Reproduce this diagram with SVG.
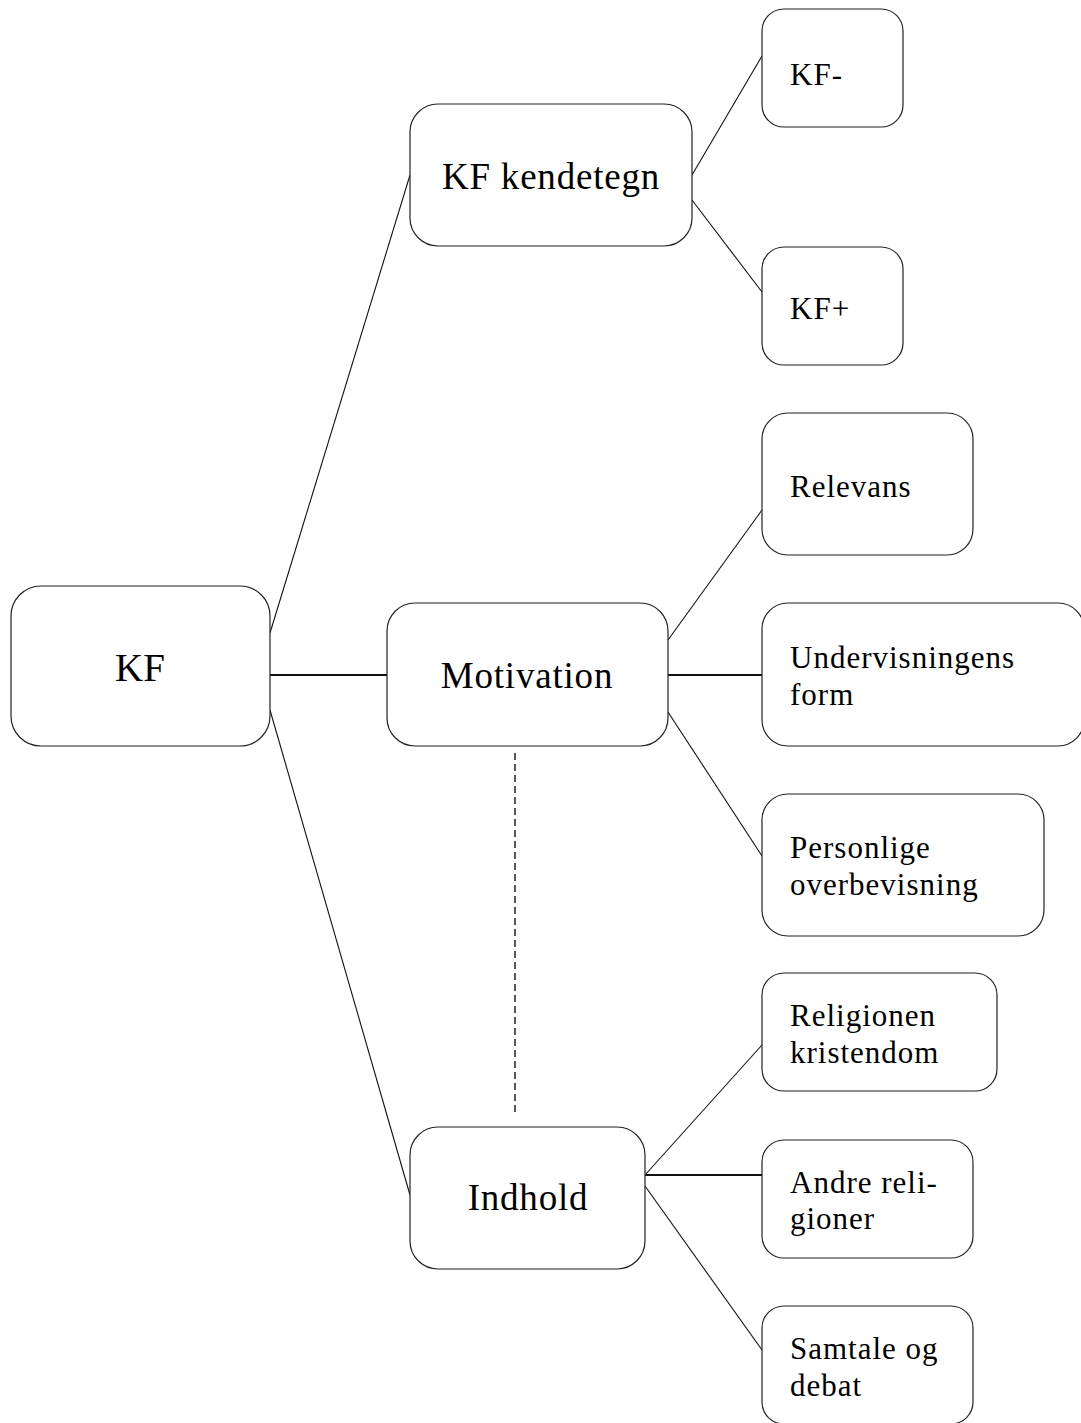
<svg xmlns="http://www.w3.org/2000/svg" width="1081" height="1423" viewBox="0 0 1081 1423">
<style>
.box{fill:#fff;stroke:#222;stroke-width:1.2}
.big{font-family:"Liberation Serif",serif;font-size:37px;letter-spacing:0.8px;fill:#000}
.root{font-family:"Liberation Serif",serif;font-size:39px;fill:#000}
.sm{font-family:"Liberation Serif",serif;font-size:31px;letter-spacing:1px;fill:#000}
.ln{stroke:#111;stroke-width:1.1;fill:none}
.th{stroke:#111;stroke-width:2;fill:none}
.da{stroke:#111;stroke-width:1.4;stroke-dasharray:7,4;fill:none}
</style>
<rect width="1081" height="1423" fill="#fff"/>
<g id="connectors">
<line class="ln" x1="270" y1="633" x2="410" y2="175"/>
<line class="th" x1="270" y1="675" x2="387" y2="675"/>
<line class="ln" x1="270" y1="710" x2="410" y2="1195"/>
<line class="ln" x1="692" y1="175" x2="762" y2="56"/>
<line class="ln" x1="692" y1="200" x2="762" y2="292"/>
<line class="ln" x1="668" y1="640" x2="762" y2="510"/>
<line class="th" x1="668" y1="675" x2="762" y2="675"/>
<line class="ln" x1="668" y1="712" x2="762" y2="856"/>
<line class="ln" x1="645" y1="1175" x2="762" y2="1045"/>
<line class="th" x1="645" y1="1175" x2="762" y2="1175"/>
<line class="ln" x1="645" y1="1186" x2="762" y2="1350"/>
<line class="da" x1="515" y1="753" x2="515" y2="1113"/>
</g>
<g id="n-kf"><rect class="box" x="11" y="586" width="259" height="160" rx="30"/><text class="root" x="140" y="681" text-anchor="middle">KF</text></g>
<g id="n-kendetegn"><rect class="box" x="410" y="104" width="282" height="142" rx="28"/><text class="big" x="551" y="189" text-anchor="middle">KF kendetegn</text></g>
<g id="n-kfminus"><rect class="box" x="762" y="9" width="141" height="118" rx="22"/><text class="sm" x="790" y="85">KF-</text></g>
<g id="n-kfplus"><rect class="box" x="762" y="247" width="141" height="118" rx="22"/><text class="sm" x="790" y="319">KF+</text></g>
<g id="n-motivation"><rect class="box" x="387" y="603" width="281" height="143" rx="28"/><text class="big" x="527" y="688" text-anchor="middle">Motivation</text></g>
<g id="n-relevans"><rect class="box" x="762" y="413" width="211" height="142" rx="26"/><text class="sm" x="790" y="497">Relevans</text></g>
<g id="n-undervisning"><rect class="box" x="762" y="603" width="322" height="143" rx="26"/><text class="sm" x="790" y="668">Undervisningens</text><text class="sm" x="790" y="705">form</text></g>
<g id="n-personlige"><rect class="box" x="762" y="794" width="282" height="142" rx="26"/><text class="sm" x="790" y="858">Personlige</text><text class="sm" x="790" y="895">overbevisning</text></g>
<g id="n-indhold"><rect class="box" x="410" y="1127" width="235" height="142" rx="28"/><text class="big" x="528" y="1210" text-anchor="middle">Indhold</text></g>
<g id="n-religionen"><rect class="box" x="762" y="973" width="235" height="118" rx="22"/><text class="sm" x="790" y="1026">Religionen</text><text class="sm" x="790" y="1063">kristendom</text></g>
<g id="n-andre"><rect class="box" x="762" y="1140" width="211" height="118" rx="22"/><text class="sm" x="790" y="1193">Andre reli-</text><text class="sm" x="790" y="1229">gioner</text></g>
<g id="n-samtale"><rect class="box" x="762" y="1306" width="211" height="118" rx="22"/><text class="sm" x="790" y="1359">Samtale og</text><text class="sm" x="790" y="1396">debat</text></g>
</svg>
